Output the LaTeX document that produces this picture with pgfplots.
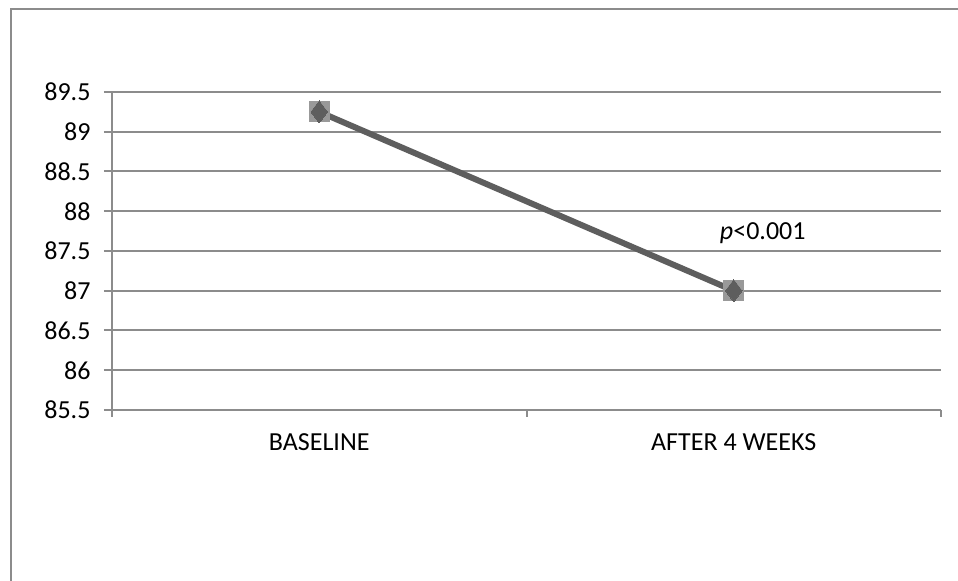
\documentclass[border=0pt]{standalone}
\usepackage{pgfplots}
\pgfplotsset{compat=1.18}
\usepackage{fontspec}
\setmainfont{Carlito}
\definecolor{gridgray}{HTML}{8C8C8C}
\definecolor{linegray}{HTML}{5E5E5E}
\definecolor{markgray}{HTML}{999999}
\begin{document}
\begin{tikzpicture}[x=1bp,y=1bp]
\useasboundingbox (-112,-171) rectangle (846,410);
\draw[gridgray, line width=2bp] (-101,-175) -- (-101,401) -- (850,401);
\begin{axis}[
  at={(0,0)}, anchor=south west,
  scale only axis, width=829bp, height=318bp,
  xmin=0, xmax=2, ymin=85.5, ymax=89.5,
  axis x line*=bottom, axis y line*=left,
  axis line style={gridgray, line width=2bp},
  xtick={0.5,1.5}, xticklabels={BASELINE, AFTER 4 WEEKS},
  major x tick style={draw=none},
  minor xtick={0,1,2},
  minor x tick style={gridgray, line width=2bp},
  minor tick length=7bp,
  ytick={85.5,86,...,89.5},
  major tick length=8bp,
  y tick style={gridgray, line width=2bp},
  tick align=outside,
  ymajorgrids, major grid style={gridgray, line width=2bp},
  tick label style={font=\fontsize{26bp}{31bp}\selectfont, black},
  yticklabel style={/pgf/number format/fixed, /pgf/number format/precision=1, xshift=-10bp},
  xticklabel style={yshift=-12bp},
  /pgf/number format/assume math mode=true,
  clip=false,
]
\addplot[linegray, line width=6bp, mark=none] coordinates {(0.5,89.25) (1.5,87.0)};
\addplot[markgray, only marks, mark=square*, mark size=10bp, mark options={fill=markgray, draw=markgray, line width=0pt}] coordinates {(0.5,89.25) (1.5,87.0)};
\addplot[linegray, only marks, mark=diamond*, mark size=11bp, mark options={fill=linegray, draw=linegray, line width=0pt}] coordinates {(0.5,89.25) (1.5,87.0)};
\node[font=\fontsize{26bp}{31bp}\selectfont] at (axis cs:1.57,87.72) {\textit{p}<0.001};
\end{axis}
\end{tikzpicture}
\end{document}
